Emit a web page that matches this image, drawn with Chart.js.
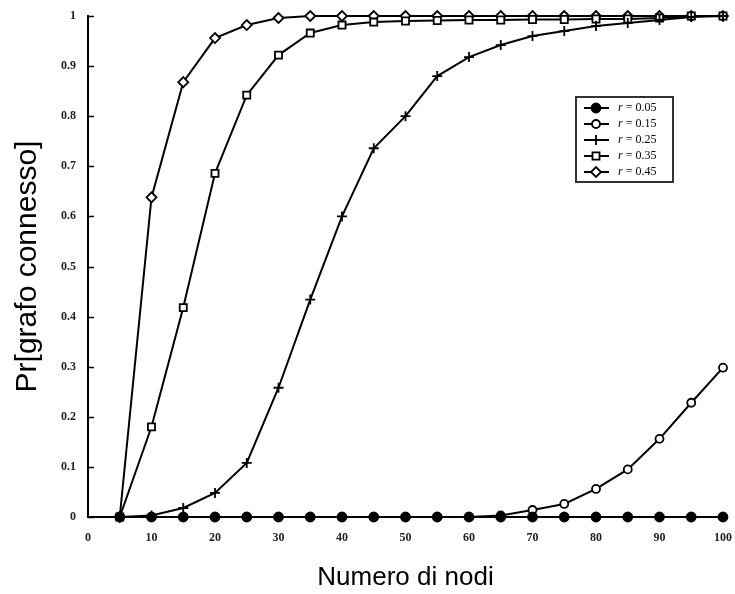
<!DOCTYPE html>
<html>
<head>
<meta charset="utf-8">
<title>Pr[grafo connesso]</title>
<script src="https://cdn.jsdelivr.net/npm/chart.js@4.4.1/dist/chart.umd.min.js"></script>
<style>
    body { margin: 0; background: #fff; }
    #wrap { width: 735px; height: 594px; }
</style>
</head>
<body>
<div id="wrap"><canvas id="chart" width="735" height="594"></canvas></div>
<script>
const nodes = [5, 10, 15, 20, 25, 30, 35, 40, 45, 50, 55, 60, 65, 70, 75, 80, 85, 90, 95, 100];
const r005 = [0, 0, 0, 0, 0, 0, 0, 0, 0, 0, 0, 0, 0, 0, 0, 0, 0, 0, 0, 0];
const r015 = [0, 0, 0, 0, 0, 0, 0, 0, 0, 0, 0, 0, 0.003, 0.014, 0.026, 0.056, 0.095, 0.156, 0.228, 0.298];
const r025 = [0, 0.003, 0.018, 0.048, 0.108, 0.258, 0.434, 0.6, 0.736, 0.8, 0.88, 0.918, 0.942, 0.96, 0.97, 0.98, 0.986, 0.992, 0.998, 1];
const r035 = [0, 0.18, 0.418, 0.686, 0.842, 0.922, 0.966, 0.982, 0.988, 0.99, 0.991, 0.992, 0.992, 0.993, 0.993, 0.994, 0.994, 0.996, 1, 1];
const r045 = [0, 0.638, 0.868, 0.956, 0.982, 0.996, 1, 1, 1, 1, 1, 1, 1, 1, 1, 1, 1, 1, 1, 1];

const rValues = ["0.05", "0.15", "0.25", "0.35", "0.45"];
const xTicks = [0, 10, 20, 30, 40, 50, 60, 70, 80, 90, 100];
const yTicks = [0, 0.1, 0.2, 0.3, 0.4, 0.5, 0.6, 0.7, 0.8, 0.9, 1];
const yTickLabels = ["0", "0.1", "0.2", "0.3", "0.4", "0.5", "0.6", "0.7", "0.8", "0.9", "1"];

const seriesValues = [r005, r015, r025, r035, r045];
const markers = [
    { style: "circle", radius: 4.5, fill: "#000" },
    { style: "circle", radius: 4, fill: "#fff" },
    { style: "cross", radius: 5, fill: "#fff" },
    { style: "rect", radius: 5, fill: "#fff" },
    { style: "rectRot", radius: 5, fill: "#fff" },
];

const datasets = seriesValues.map((vals, i) => ({
    label: "r = " + rValues[i],
    data: nodes.map((n, j) => ({ x: n, y: vals[j] })),
    borderColor: "#000",
    borderWidth: 2,
    backgroundColor: markers[i].fill,
    pointStyle: markers[i].style,
    pointRadius: markers[i].radius,
    pointBorderWidth: 1.8,
    pointBorderColor: "#000",
    pointBackgroundColor: markers[i].fill,
    tension: 0,
    clip: false,
}));

// small inward tick marks on the y axis
const yTickMarks = {
    id: "yTickMarks",
    afterDraw(chart) {
        const ctx = chart.ctx;
        const y = chart.scales.y;
        ctx.save();
        ctx.strokeStyle = "#000";
        ctx.lineWidth = 1.5;
        yTicks.forEach(v => {
            const py = Math.round(y.getPixelForValue(v)) + 0.5;
            ctx.beginPath();
            ctx.moveTo(chart.chartArea.left, py);
            ctx.lineTo(chart.chartArea.left + 6, py);
            ctx.stroke();
        });
        ctx.restore();
    }
};

// legend box inside the plot
const legendBox = {
    id: "legendBox",
    afterDraw(chart) {
        const ctx = chart.ctx;
        const area = chart.chartArea;
        const x0 = area.right - 147, y0 = area.top + 81, w = 97, h = 85;
        ctx.save();
        ctx.fillStyle = "#fff";
        ctx.fillRect(x0, y0, w, h);
        ctx.strokeStyle = "#333";
        ctx.lineWidth = 2;
        ctx.strokeRect(x0, y0, w, h);
        rValues.forEach((r, i) => {
            const cy = y0 + 11 + i * 16;
            ctx.strokeStyle = "#000";
            ctx.lineWidth = 2;
            ctx.beginPath();
            ctx.moveTo(x0 + 8, cy);
            ctx.lineTo(x0 + 33, cy);
            ctx.stroke();
            ctx.fillStyle = markers[i].fill;
            ctx.lineWidth = 1.8;
            Chart.helpers.drawPoint(ctx, {
                pointStyle: markers[i].style,
                radius: markers[i].radius,
                rotation: 0,
                borderWidth: 1.8,
            }, x0 + 20, cy);
            ctx.fillStyle = "#000";
            ctx.textBaseline = "middle";
            ctx.font = "italic 12px 'Liberation Serif'";
            ctx.fillText("r", x0 + 42, cy);
            const rw = ctx.measureText("r ").width;
            ctx.font = "12px 'Liberation Serif'";
            ctx.fillText("= " + r, x0 + 42 + rw, cy);
        });
        ctx.restore();
    }
};

new Chart(document.getElementById("chart"), {
    type: "line",
    data: { datasets },
    options: {
        responsive: false,
        devicePixelRatio: 1,
        animation: false,
        layout: { padding: { top: 16, right: 12, left: 0, bottom: 0 } },
        plugins: {
            legend: { display: false },
            tooltip: { enabled: false },
        },
        scales: {
            x: {
                type: "linear",
                min: 0,
                max: 100,
                afterBuildTicks: s => { s.ticks = xTicks.map(v => ({ value: v })); },
                afterFit: s => { s.height = 77; s.paddingLeft = 0; s.paddingRight = 0; },
                grid: { display: false, drawTicks: false },
                border: { display: true, color: "#000", width: 2 },
                ticks: {
                    padding: 14,
                    maxRotation: 0,
                    color: "#222",
                    font: { family: "'Liberation Serif'", size: 12, weight: "bold" },
                },
                title: {
                    display: true,
                    text: "Numero di nodi",
                    color: "#000",
                    font: { family: "'Liberation Sans'", size: 26 },
                    padding: { top: 0, bottom: 1 },
                },
            },
            y: {
                type: "linear",
                min: 0,
                max: 1,
                afterBuildTicks: s => { s.ticks = yTicks.map(v => ({ value: v })); },
                afterFit: s => { s.width = 88; s.paddingTop = 0; s.paddingBottom = 0; },
                grid: { display: false, drawTicks: false },
                border: { display: true, color: "#000", width: 2 },
                ticks: {
                    padding: 12,
                    color: "#222",
                    font: { family: "'Liberation Serif'", size: 12, weight: "bold" },
                    callback: v => yTickLabels[yTicks.indexOf(v)],
                },
                title: {
                    display: true,
                    text: "Pr[grafo connesso]",
                    color: "#000",
                    font: { family: "'Liberation Sans'", size: 30 },
                    padding: { top: 10, bottom: 0 },
                },
            },
        },
    },
    plugins: [yTickMarks, legendBox],
});
</script>
</body>
</html>
